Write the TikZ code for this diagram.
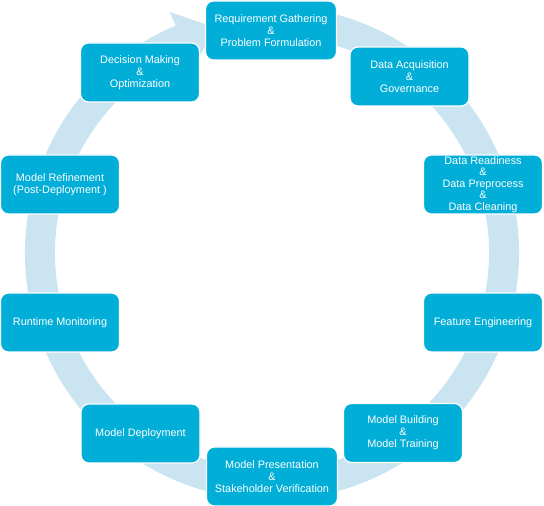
\documentclass[tikz,border=0pt]{standalone}
\usepackage{fontspec}
\setmainfont{Liberation Sans}
\usepackage{xcolor}
\definecolor{stagecyan}{RGB}{0,174,216}
\definecolor{ringblue}{RGB}{202,228,241}
\usetikzlibrary{calc}
\tikzset{stage/.style={rectangle,rounded corners=8bp,fill=stagecyan,draw=white,line width=1.2bp,
  text=white,align=center,minimum width=119bp,minimum height=59bp,inner sep=0pt,
  font=\fontsize{10.9}{12}\selectfont}}

\begin{document}
\begin{tikzpicture}[x=1bp,y=1bp]
\useasboundingbox (0,0) rectangle (544,506);
\coordinate (ctr) at (272,253);
\fill[ringblue] ($(ctr)+(80:247bp)$) arc[start angle=80,end angle=-247,radius=247bp]
  -- ($(ctr)+(-247:217bp)$) arc[start angle=-247,end angle=80,radius=217bp] -- cycle;
\fill[ringblue] ($(ctr)+(113:262bp)$) -- ($(ctr)+(104:232bp)$) -- ($(ctr)+(113:202bp)$) -- cycle;
\node[stage,minimum width=131bp] (req) at (271,475.5) {Requirement Gathering\\\&\\Problem Formulation};
\node[stage] (acq) at (409.5,429.5) {Data Acquisition\\\&\\Governance};
\node[stage,font=\fontsize{10.9}{11.6}\selectfont] (ready) at (483,321.5) {Data Readiness\\\&\\Data Preprocess\\\&\\Data Cleaning};
\node[stage] (feat) at (483,183.5) {Feature Engineering};
\node[stage] (build) at (403,73) {Model Building\\\&\\Model Training};
\node[stage,minimum width=131bp] (pres) at (272,29.5) {Model Presentation\\\&\\Stakeholder Verification};
\node[stage] (deploy) at (140.5,72.5) {Model Deployment};
\node[stage] (runtime) at (60,183.5) {Runtime Monitoring};
\node[stage] (refine) at (60,321.5) {Model Refinement\\(Post-Deployment )};
\node[stage] (decide) at (140,433.5) {Decision Making\\\&\\Optimization};
\end{tikzpicture}
\end{document}
